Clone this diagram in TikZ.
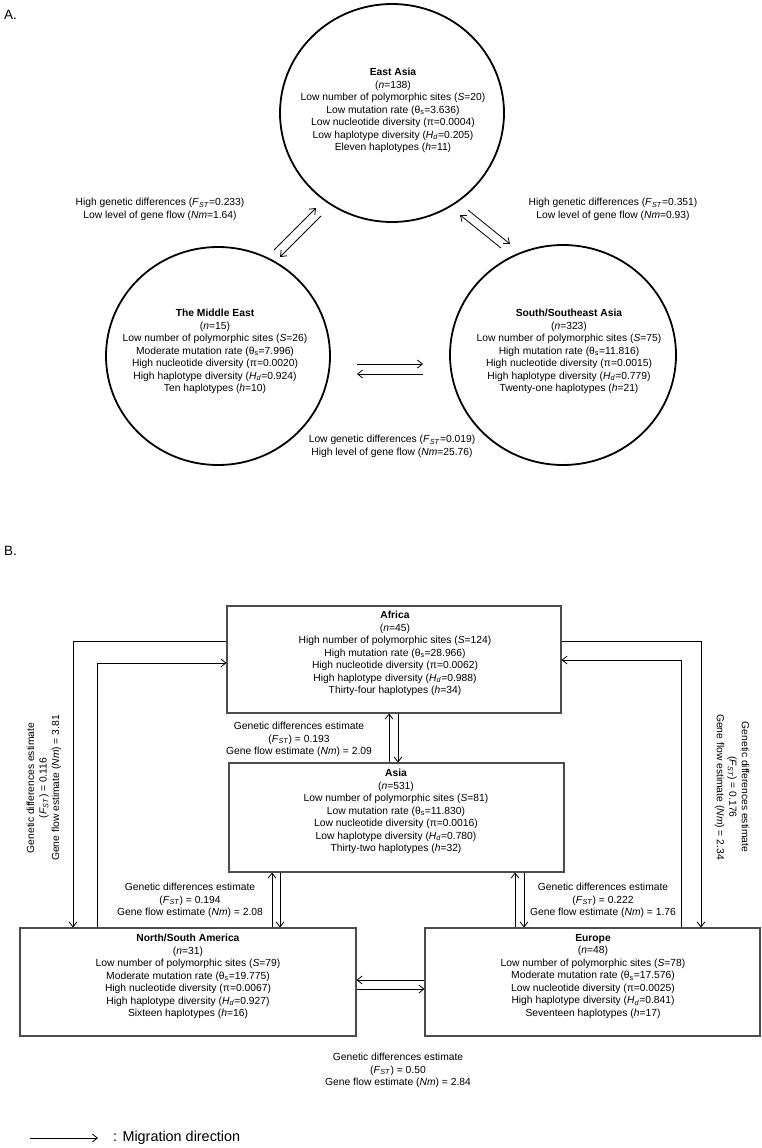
\documentclass[tikz,border=0pt]{standalone}
\usepackage{fontspec}
\setmainfont{Liberation Sans}
\usetikzlibrary{arrows.meta}

\newcommand{\fst}{\textit{F}\textsubscript{\textit{ST}}}
\newcommand{\thS}{θ\textsubscript{s}}
\newcommand{\hdv}{\textit{H}\textsubscript{\textit{d}}}

\tikzset{
  txt/.style={font=\fontsize{10.3}{12.5}\selectfont, align=center, inner sep=0pt},
  ring/.style={draw=black, line width=1.8pt},
  region/.style={draw=black!70, line width=1.1pt, inner sep=0pt},
  mig/.style={-{Straight Barb[length=5pt,width=8pt]}, line width=0.8pt},
  panel/.style={anchor=west, inner sep=0pt, font=\fontsize{13.5}{15}\selectfont}
}

\begin{document}
\begin{tikzpicture}[x=1pt, y=-1pt]
  \useasboundingbox (0,0) rectangle (761,1148);

  % Panel A
  \node[panel] (labA) at (4,15) {A.};

  % East Asia
  \node[txt] (eastasia) at (393,110.5) {\textbf{East Asia}\\(\textit{n}=138)\\Low number of polymorphic sites (\textit{S}=20)\\Low mutation rate (\thS=3.636)\\Low nucleotide diversity (π=0.0004)\\Low haplotype diversity (\hdv=0.205)\\Eleven haplotypes (\textit{h}=11)};
  \draw[ring] (392,113) ellipse [x radius=112, y radius=109];

  % The Middle East
  \node[txt] (mideast) at (215,351.5) {\textbf{The Middle East}\\(\textit{n}=15)\\Low number of polymorphic sites (\textit{S}=26)\\Moderate mutation rate (\thS=7.996)\\High nucleotide diversity (π=0.0020)\\High haplotype diversity (\hdv=0.924)\\Ten haplotypes (\textit{h}=10)};
  \draw[ring] (218,356) ellipse [x radius=112, y radius=109];

  % South/Southeast Asia
  \node[txt] (seasia) at (569,351.5) {\textbf{South/Southeast Asia}\\(\textit{n}=323)\\Low number of polymorphic sites (\textit{S}=75)\\High mutation rate (\thS=11.816)\\High nucleotide diversity (π=0.0015)\\High haplotype diversity (\hdv=0.779)\\Twenty-one haplotypes (\textit{h}=21)};
  \draw[ring] (563,355) ellipse [x radius=113, y radius=110];

  % migration between the rings
  \coordinate (meA) at (274,250);
  \coordinate (eaA) at (316,208);
  \coordinate (eaB) at (321,216);
  \coordinate (meB) at (280,257);
  \draw[mig] (meA) -- (eaA);
  \draw[mig] (eaB) -- (meB);

  \coordinate (seA) at (501,248);
  \coordinate (eaC) at (460,215);
  \coordinate (eaD) at (468,210);
  \coordinate (seB) at (510,244);
  \draw[mig] (seA) -- (eaC);
  \draw[mig] (eaD) -- (seB);

  \coordinate (meC) at (357,364);
  \coordinate (seC) at (423,364);
  \coordinate (seD) at (423,374);
  \coordinate (meD) at (357,374);
  \draw[mig] (meC) -- (seC);
  \draw[mig] (seD) -- (meD);

  \node[txt] (lblMeEa) at (160,209.5) {High genetic differences (\fst=0.233)\\Low level of gene flow (\textit{Nm}=1.64)};
  \node[txt] (lblEaSe) at (613,209.5) {High genetic differences (\fst=0.351)\\Low level of gene flow (\textit{Nm}=0.93)};
  \node[txt] (lblMeSe) at (392,446.5) {Low genetic differences (\fst=0.019)\\High level of gene flow (\textit{Nm}=25.76)};

  % Panel B
  \node[panel] (labB) at (4,551) {B.};

  % boxes
  \node[region, minimum width=334pt, minimum height=107pt] (africa) at (394,659.5) {};
  \node[txt] (africatxt) at (395,653.5) {\textbf{Africa}\\(\textit{n}=45)\\High number of polymorphic sites (\textit{S}=124)\\High mutation rate (\thS=28.966)\\High nucleotide diversity (π=0.0062)\\High haplotype diversity (\hdv=0.988)\\Thirty-four haplotypes (\textit{h}=34)};

  \node[region, minimum width=335pt, minimum height=109pt] (asia) at (396.5,817.5) {};
  \node[txt] (asiatxt) at (396,811.5) {\textbf{Asia}\\(\textit{n}=531)\\Low number of polymorphic sites (\textit{S}=81)\\Low mutation rate (\thS=11.830)\\Low nucleotide diversity (π=0.0016)\\Low haplotype diversity (\hdv=0.780)\\Thirty-two haplotypes (\textit{h}=32)};

  \node[region, minimum width=336pt, minimum height=108pt] (america) at (188,982) {};
  \node[txt] (americatxt) at (188,976.5) {\textbf{North/South America}\\(\textit{n}=31)\\Low number of polymorphic sites (\textit{S}=79)\\Moderate mutation rate (\thS=19.775)\\High nucleotide diversity (π=0.0067)\\High haplotype diversity (\hdv=0.927)\\Sixteen haplotypes (\textit{h}=16)};

  \node[region, minimum width=335pt, minimum height=108pt] (europe) at (592.5,982) {};
  \node[txt] (europetxt) at (593,976.5) {\textbf{Europe}\\(\textit{n}=48)\\Low number of polymorphic sites (\textit{S}=78)\\Moderate mutation rate (\thS=17.576)\\Low nucleotide diversity (π=0.0025)\\High haplotype diversity (\hdv=0.841)\\Seventeen haplotypes (\textit{h}=17)};

  % Africa <-> Asia
  \coordinate (xAfAsUp) at (389,0);
  \coordinate (xAfAsDn) at (398,0);
  \draw[mig] (asia.north -| xAfAsUp) -- (africa.south -| xAfAsUp);
  \draw[mig] (africa.south -| xAfAsDn) -- (asia.north -| xAfAsDn);

  % Asia <-> America
  \coordinate (xAsAmUp) at (272,0);
  \coordinate (xAsAmDn) at (280,0);
  \draw[mig] (america.north -| xAsAmUp) -- (asia.south -| xAsAmUp);
  \draw[mig] (asia.south -| xAsAmDn) -- (america.north -| xAsAmDn);

  % Asia <-> Europe
  \coordinate (xAsEuUp) at (515,0);
  \coordinate (xAsEuDn) at (524,0);
  \draw[mig] (europe.north -| xAsEuUp) -- (asia.south -| xAsEuUp);
  \draw[mig] (asia.south -| xAsEuDn) -- (europe.north -| xAsEuDn);

  % America <-> Europe
  \coordinate (yAmEuL) at (0,980);
  \coordinate (yAmEuR) at (0,989);
  \draw[mig] (europe.west |- yAmEuL) -- (america.east |- yAmEuL);
  \draw[mig] (america.east |- yAmEuR) -- (europe.west |- yAmEuR);

  % Africa <-> America, round the left side
  \coordinate (oL) at (73,641);
  \coordinate (iL) at (97,663);
  \draw[mig] (africa.west |- oL) -| (america.north -| oL);
  \draw[mig] (america.north -| iL) |- (africa.west |- iL);

  % Africa <-> Europe, round the right side
  \coordinate (oR) at (701,641);
  \coordinate (iR) at (681,660);
  \draw[mig] (africa.east |- oR) -| (europe.north -| oR);
  \draw[mig] (europe.north -| iR) |- (africa.east |- iR);

  % estimates
  \node[txt] (lblAfAs) at (299,739.5) {Genetic differences estimate\\(\fst) = 0.193\\Gene flow estimate (\textit{Nm}) = 2.09};
  \node[txt] (lblAsAm) at (190,900.5) {Genetic differences estimate\\(\fst) = 0.194\\Gene flow estimate (\textit{Nm}) = 2.08};
  \node[txt] (lblAsEu) at (603,900.5) {Genetic differences estimate\\(\fst) = 0.222\\Gene flow estimate (\textit{Nm}) = 1.76};
  \node[txt] (lblAmEu) at (398,1070.5) {Genetic differences estimate\\(\fst) = 0.50\\Gene flow estimate (\textit{Nm}) = 2.84};
  \node[txt, rotate=90] (lblAfAm) at (44,788) {Genetic differences estimate\\(\fst) = 0.116\\Gene flow estimate (\textit{Nm}) = 3.81};
  \node[txt, rotate=-90] (lblAfEu) at (732,787) {Genetic differences estimate\\(\fst) = 0.176\\Gene flow estimate (\textit{Nm}) = 2.34};

  % legend
  \coordinate (legS) at (30,1138);
  \coordinate (legE) at (98,1138);
  \draw[mig] (legS) -- (legE);
  \node[anchor=west, inner sep=0pt, font=\fontsize{14.4}{16}\selectfont] (legtxt) at (113,1138) {: Migration direction};
\end{tikzpicture}
\end{document}
